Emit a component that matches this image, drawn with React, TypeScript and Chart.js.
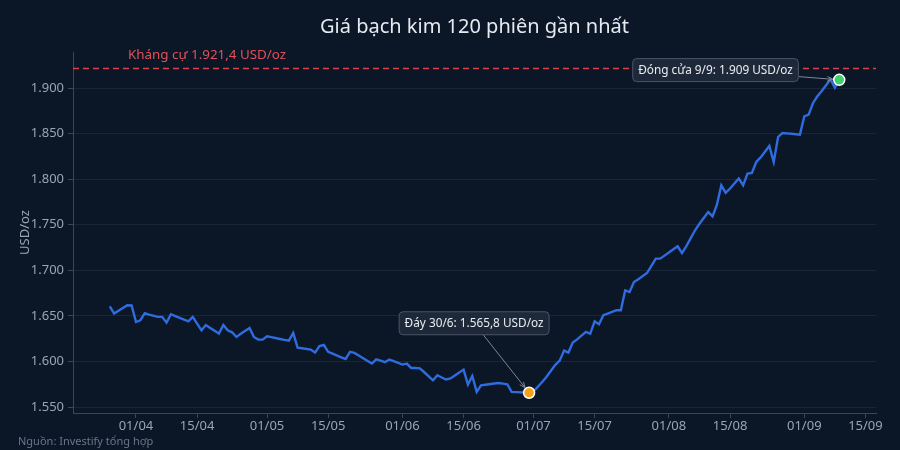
import React, { useEffect, useRef } from "react";
import { Chart, registerables } from "chart.js";

Chart.register(...registerables);

const titleText = "Giá bạch kim 120 phiên gần nhất";
const yAxisTitle = "USD/oz";
const sourceText = "Nguồn: Investify tổng hợp";

const sessionDates: string[] = [
  "2025-03-26", "2025-03-27", "2025-03-28", "2025-03-30", "2025-03-31",
  "2025-04-01", "2025-04-02", "2025-04-03", "2025-04-04", "2025-04-06", "2025-04-07", "2025-04-08", "2025-04-09", "2025-04-10", "2025-04-11",
  "2025-04-13", "2025-04-14", "2025-04-15", "2025-04-16", "2025-04-17", "2025-04-18", "2025-04-20", "2025-04-21", "2025-04-22", "2025-04-23",
  "2025-04-24", "2025-04-25", "2025-04-27", "2025-04-28", "2025-04-29", "2025-04-30",
  "2025-05-01", "2025-05-02", "2025-05-04", "2025-05-05", "2025-05-06", "2025-05-07", "2025-05-08", "2025-05-09", "2025-05-11", "2025-05-12",
  "2025-05-13", "2025-05-14", "2025-05-15", "2025-05-16", "2025-05-18", "2025-05-19", "2025-05-20", "2025-05-21", "2025-05-22", "2025-05-23",
  "2025-05-25", "2025-05-26", "2025-05-27", "2025-05-28", "2025-05-29", "2025-05-30",
  "2025-06-01", "2025-06-02", "2025-06-03", "2025-06-04", "2025-06-05", "2025-06-06", "2025-06-08", "2025-06-09", "2025-06-10", "2025-06-11",
  "2025-06-12", "2025-06-13", "2025-06-15", "2025-06-16", "2025-06-17", "2025-06-18", "2025-06-19", "2025-06-20", "2025-06-22", "2025-06-23",
  "2025-06-24", "2025-06-25", "2025-06-26", "2025-06-27", "2025-06-29", "2025-06-30",
  "2025-07-01", "2025-07-02", "2025-07-03", "2025-07-04", "2025-07-06", "2025-07-07", "2025-07-08", "2025-07-09", "2025-07-10", "2025-07-11",
  "2025-07-13", "2025-07-14", "2025-07-15", "2025-07-16", "2025-07-17", "2025-07-18", "2025-07-20", "2025-07-21", "2025-07-22", "2025-07-23",
  "2025-07-24", "2025-07-25", "2025-07-27", "2025-07-28", "2025-07-29", "2025-07-30", "2025-07-31",
  "2025-08-01", "2025-08-03", "2025-08-04", "2025-08-05", "2025-08-06", "2025-08-07", "2025-08-08", "2025-08-10", "2025-08-11", "2025-08-12",
  "2025-08-13", "2025-08-14", "2025-08-15", "2025-08-17", "2025-08-18", "2025-08-19", "2025-08-20", "2025-08-21", "2025-08-22", "2025-08-24",
  "2025-08-25", "2025-08-26", "2025-08-27", "2025-08-28", "2025-08-29", "2025-08-31",
  "2025-09-01", "2025-09-02", "2025-09-03", "2025-09-04", "2025-09-05", "2025-09-07", "2025-09-08", "2025-09-09",
];

const platinumPrice: number[] = [
  1660.5, 1652.6, 1655.7, 1661.7, 1661.5,
  1643.4, 1645.3, 1653.0, 1651.5, 1649.0, 1649.0, 1642.7, 1651.9, 1649.9, 1648.0,
  1644.2, 1649.0, 1641.7, 1634.3, 1640.1, 1636.9, 1630.7, 1640.1, 1634.3, 1632.1,
  1627.0, 1630.5, 1636.8, 1627.0, 1624.1, 1624.1,
  1627.7, 1626.8, 1624.8, 1623.8, 1623.0, 1631.4, 1615.3, 1614.6, 1613.1, 1609.9,
  1617.1, 1618.2, 1610.6, 1608.6, 1604.7, 1602.9, 1610.6, 1609.5, 1606.6, 1603.7,
  1597.8, 1602.5, 1601.0, 1599.3, 1602.2, 1600.4,
  1596.7, 1597.8, 1593.0, 1593.0, 1592.6, 1588.3, 1579.5, 1585.0, 1582.5, 1580.3,
  1581.5, 1584.8, 1591.2, 1574.8, 1584.2, 1566.7, 1574.0, 1574.6, 1575.9, 1576.5,
  1575.8, 1575.1, 1566.7, 1566.5, 1566.1, 1565.8,
  1567.0, 1572.4, 1577.6, 1583.3, 1596.5, 1601.0, 1612.0, 1609.9, 1621.0, 1624.3,
  1632.5, 1630.7, 1644.2, 1640.9, 1650.8, 1652.7, 1656.3, 1656.3, 1678.2, 1676.3,
  1687.3, 1690.3, 1697.1, 1705.0, 1712.9, 1712.9, 1716.2,
  1719.5, 1726.4, 1719.0, 1726.6, 1735.4, 1744.0, 1751.1, 1764.0, 1759.3, 1772.1,
  1793.3, 1785.0, 1789.8, 1800.7, 1793.3, 1806.1, 1806.8, 1818.9, 1823.9, 1836.4,
  1818.9, 1846.3, 1850.7, 1850.2, 1849.8, 1848.9,
  1869.0, 1870.8, 1883.6, 1891.0, 1896.7, 1909.5, 1900.4, 1909.0,
];

const xTickDates: string[] = [
  "2025-04-01", "2025-04-15", "2025-05-01", "2025-05-15", "2025-06-01", "2025-06-15",
  "2025-07-01", "2025-07-15", "2025-08-01", "2025-08-15", "2025-09-01", "2025-09-15",
];
const yTickValues: number[] = [1550, 1600, 1650, 1700, 1750, 1800, 1850, 1900];

const xRange: string[] = ["2025-03-17T14:00", "2025-09-17T10:00"];
const yRange: number[] = [1543.6, 1939.5];

const resistanceValue = 1921.4;
const resistanceLabel = "Kháng cự 1.921,4 USD/oz";

const markerDates: string[] = ["2025-06-30", "2025-09-09"];
const markerTexts: string[] = ["Đáy 30/6: 1.565,8 USD/oz", "Đóng cửa 9/9: 1.909 USD/oz"];
const markerColors: string[] = ["#f5a21b", "#3fcf6c"];
const markerOffsets: number[][] = [[-55, -69.5], [-123.7, -9.7]];

const DAY = 86400000;
function toDay(s: string): number {
  const [datePart, timePart] = s.split("T");
  const [y, m, d] = datePart.split("-").map(Number);
  let t = Date.UTC(y, m - 1, d);
  if (timePart) {
    const [hh, mm] = timePart.split(":").map(Number);
    t += (hh * 60 + mm) * 60000;
  }
  return t / DAY;
}
function fmtTick(day: number): string {
  const dt = new Date(Math.round(day) * DAY);
  const dd = String(dt.getUTCDate()).padStart(2, "0");
  const mm = String(dt.getUTCMonth() + 1).padStart(2, "0");
  return `${dd}/${mm}`;
}
function fmtThousands(v: number): string {
  return String(Math.round(v)).replace(/\B(?=(\d{3})+(?!\d))/g, ".");
}

const FONT = "'Noto Sans', 'Open Sans', sans-serif";
const BG = "#0b1627";

export default function App() {
  const ref = useRef<HTMLCanvasElement | null>(null);

  useEffect(() => {
    document.body.style.margin = "0";
    document.body.style.background = BG;
    const canvas = ref.current;
    if (!canvas) return;

    const lineData = sessionDates.map((d, i) => ({ x: toDay(d), y: platinumPrice[i] }));
    const markerData = markerDates.map((d) => {
      const i = sessionDates.indexOf(d);
      return { x: toDay(d), y: platinumPrice[i] };
    });

    const overlay = {
      id: "overlay",
      beforeDraw(chart: any) {
        const ctx = chart.ctx;
        ctx.save();
        ctx.fillStyle = BG;
        ctx.fillRect(0, 0, chart.width, chart.height);
        ctx.restore();
      },
      beforeDatasetsDraw(chart: any) {
        const ctx = chart.ctx;
        const { left, right } = chart.chartArea;
        const y = chart.scales.y.getPixelForValue(resistanceValue);
        ctx.save();
        ctx.strokeStyle = "#df3f48";
        ctx.lineWidth = 1.4;
        ctx.setLineDash([6, 4]);
        ctx.beginPath();
        ctx.moveTo(left, y);
        ctx.lineTo(right, y);
        ctx.stroke();
        ctx.setLineDash([]);
        ctx.fillStyle = "#e35157";
        ctx.font = `13.4px ${FONT}`;
        ctx.textAlign = "left";
        ctx.textBaseline = "alphabetic";
        ctx.fillText(resistanceLabel, 128, y - 10);
        ctx.restore();
      },
      afterDatasetsDraw(chart: any) {
        const ctx = chart.ctx;
        const xs = chart.scales.x;
        const ys = chart.scales.y;
        const { left, right } = chart.chartArea;
        ctx.save();
        // title
        ctx.fillStyle = "#e6eaf0";
        ctx.font = `20px ${FONT}`;
        ctx.textAlign = "center";
        ctx.textBaseline = "middle";
        ctx.fillText(titleText, (left + right) / 2, 27);
        // y axis title
        ctx.save();
        ctx.translate(25, (chart.chartArea.top + chart.chartArea.bottom) / 2);
        ctx.rotate(-Math.PI / 2);
        ctx.fillStyle = "#9aa4b4";
        ctx.font = `13px ${FONT}`;
        ctx.fillText(yAxisTitle, 0, 0);
        ctx.restore();
        // source
        ctx.fillStyle = "#6b7586";
        ctx.font = `11px ${FONT}`;
        ctx.textAlign = "left";
        ctx.fillText(sourceText, 18, 442);

        // annotations
        markerData.forEach((p, i) => {
          const px = xs.getPixelForValue(p.x);
          const py = ys.getPixelForValue(p.y);
          const cx = px + markerOffsets[i][0];
          const cy = py + markerOffsets[i][1];
          ctx.font = `11.8px ${FONT}`;
          const tw = ctx.measureText(markerTexts[i]).width;
          const bw = tw + 11;
          const bh = 23;
          const dx = px - cx;
          const dy = py - cy;
          const tx = Math.abs(dx) > 0 ? (bw / 2) / Math.abs(dx) : Infinity;
          const ty = Math.abs(dy) > 0 ? (bh / 2) / Math.abs(dy) : Infinity;
          const t0 = Math.min(tx, ty);
          const sx = cx + dx * t0;
          const sy = cy + dy * t0;
          const len = Math.hypot(dx, dy);
          const ex = px - (dx / len) * 6.5;
          const ey = py - (dy / len) * 6.5;
          ctx.strokeStyle = "#7c8697";
          ctx.lineWidth = 1;
          ctx.beginPath();
          ctx.moveTo(sx, sy);
          ctx.lineTo(ex, ey);
          ctx.stroke();
          const ang = Math.atan2(ey - sy, ex - sx);
          const ah = 6;
          ctx.beginPath();
          ctx.moveTo(ex, ey);
          ctx.lineTo(ex - ah * Math.cos(ang - 0.4), ey - ah * Math.sin(ang - 0.4));
          ctx.moveTo(ex, ey);
          ctx.lineTo(ex - ah * Math.cos(ang + 0.4), ey - ah * Math.sin(ang + 0.4));
          ctx.stroke();
          const bx = cx - bw / 2;
          const by = cy - bh / 2;
          const r = 4;
          ctx.beginPath();
          ctx.moveTo(bx + r, by);
          ctx.lineTo(bx + bw - r, by);
          ctx.quadraticCurveTo(bx + bw, by, bx + bw, by + r);
          ctx.lineTo(bx + bw, by + bh - r);
          ctx.quadraticCurveTo(bx + bw, by + bh, bx + bw - r, by + bh);
          ctx.lineTo(bx + r, by + bh);
          ctx.quadraticCurveTo(bx, by + bh, bx, by + bh - r);
          ctx.lineTo(bx, by + r);
          ctx.quadraticCurveTo(bx, by, bx + r, by);
          ctx.closePath();
          ctx.fillStyle = "rgba(31, 42, 58, 0.95)";
          ctx.fill();
          ctx.strokeStyle = "#4a5668";
          ctx.lineWidth = 1;
          ctx.stroke();
          ctx.fillStyle = "#e8ecf2";
          ctx.textAlign = "center";
          ctx.textBaseline = "middle";
          ctx.fillText(markerTexts[i], cx, cy + 0.5);
        });
        ctx.restore();
      },
    };

    const chart = new Chart(canvas, {
      type: "line",
      data: {
        datasets: [
          {
            label: "markers",
            data: markerData,
            showLine: false,
            pointRadius: 5.5,
            pointBorderWidth: 1.5,
            pointBorderColor: "#ffffff",
            pointBackgroundColor: markerColors,
            order: 0,
          } as any,
          {
            label: "price",
            data: lineData,
            borderColor: "#2f6ce0",
            borderWidth: 2.4,
            pointRadius: 0,
            tension: 0,
            fill: false,
            order: 1,
          },
        ],
      },
      plugins: [overlay],
      options: {
        responsive: false,
        animation: false,
        devicePixelRatio: 1,
        layout: { padding: { top: 52, right: 24, left: 0, bottom: 0 } },
        plugins: {
          legend: { display: false },
          tooltip: { enabled: false },
          title: { display: false },
        },
        scales: {
          x: {
            type: "linear",
            min: toDay(xRange[0]),
            max: toDay(xRange[1]),
            afterBuildTicks: (scale: any) => {
              scale.ticks = xTickDates.map((d) => ({ value: toDay(d) }));
            },
            afterFit: (scale: any) => {
              scale.height = 37;
            },
            ticks: {
              autoSkip: false,
              maxRotation: 0,
              color: "#9aa4b4",
              font: { family: FONT, size: 13 },
              padding: 0,
              callback: (v: any) => fmtTick(Number(v)),
            },
            grid: {
              drawOnChartArea: false,
              drawTicks: true,
              tickLength: 5,
              tickColor: "#3a4557",
            },
            border: { display: true, color: "#3a4557", width: 1 },
          },
          y: {
            type: "linear",
            min: yRange[0],
            max: yRange[1],
            afterBuildTicks: (scale: any) => {
              scale.ticks = yTickValues.map((v) => ({ value: v }));
            },
            afterFit: (scale: any) => {
              scale.width = 73;
            },
            ticks: {
              color: "#9aa4b4",
              font: { family: FONT, size: 13 },
              padding: 4,
              callback: (v: any) => fmtThousands(Number(v)),
            },
            grid: {
              color: "#1a2636",
              lineWidth: 1,
              drawTicks: true,
              tickLength: 5,
              tickColor: "#3a4557",
            },
            border: { display: true, color: "#3a4557", width: 1 },
          },
        },
      } as any,
    });

    return () => chart.destroy();
  }, []);

  return (
    <div style={{ width: 900, height: 450, background: BG }}>
      <canvas ref={ref} width={900} height={450} style={{ width: 900, height: 450, display: "block" }} />
    </div>
  );
}
